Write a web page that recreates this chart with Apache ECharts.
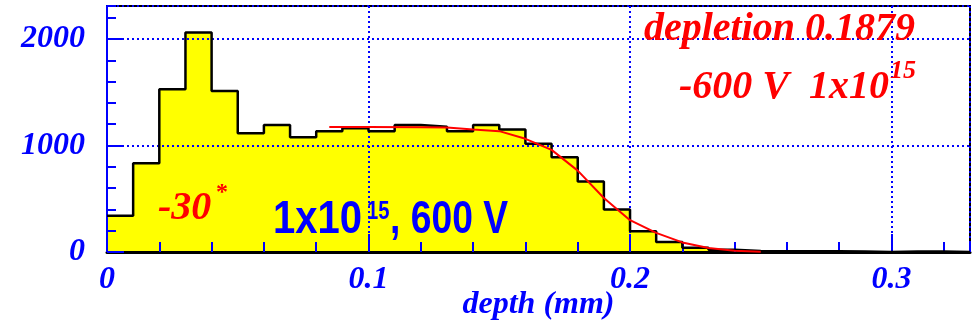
<!DOCTYPE html>
<html>
<head>
<meta charset="utf-8">
<script src="https://cdn.jsdelivr.net/npm/echarts@6/dist/echarts.min.js"></script>
<style>
html,body{margin:0;padding:0;background:#fff;}
#chart{width:974px;height:326px;}
</style>
</head>
<body>
<div id="chart"></div>
<script>
// ---- data ----
const binWidth = 0.01;
const binCounts = [340, 833, 1528, 2060, 1512, 1116, 1192, 1078, 1135, 1163,
                   1135, 1192, 1176, 1135, 1192, 1151, 1016, 890, 663, 399,
                   195, 94, 41, 22, 9, 7, 6, 6, 5, 0,
                   5, 5, 0];
const fitX = [0.085, 0.10, 0.12, 0.13, 0.14, 0.15, 0.16, 0.17, 0.18, 0.19, 0.20, 0.21, 0.22, 0.23, 0.24, 0.25];
const fitY = [1173, 1173, 1172, 1168, 1151, 1135, 1063, 959, 764, 507, 299, 180, 90, 38, 12, 3];
const xTickLabels = ['0', '0.1', '0.2', '0.3'];
const yTickLabels = ['0', '1000', '2000'];
const xName = 'depth (mm)';
const textDepletion = 'depletion 0.1879';
const textVolt = '-600 V  1x10';
const textExp = '15';
const textMinus30 = '-30';
const textBlue1 = '1x10';
const textBlue2 = ', 600 V';

// ---- build series data ----
const histData = binCounts.map((v, i) => [+(i * binWidth).toFixed(4), v]);
histData.push([+(binCounts.length * binWidth).toFixed(4), binCounts[binCounts.length - 1]]);
const fitData = fitX.map((x, i) => [x, fitY[i]]);

const BLUE = '#0000ff';
const RED = '#ff0000';
const serif = '"Liberation Serif", "Times New Roman", serif';
const sans = '"Liberation Sans", Arial, sans-serif';
const labelFont = {color: BLUE, fontFamily: serif, fontWeight: 'bold', fontStyle: 'italic', fontSize: 32};
const gridLine = {show: true, lineStyle: {color: BLUE, width: 2, type: [2, 3]}};

const chart = echarts.init(document.getElementById('chart'), null, {renderer: 'canvas'});
chart.setOption({
  animation: false,
  backgroundColor: '#fff',
  grid: {left: 107, right: 4, top: 6, bottom: 74, containLabel: false, outerBoundsMode: 'none',
         show: true, borderColor: '#000', borderWidth: 2, backgroundColor: 'transparent'},
  xAxis: [
    {
      type: 'value', min: 0, max: 0.33, interval: 0.1, position: 'bottom', z: 3,
      name: xName, nameLocation: 'middle', nameGap: 37, nameMoveOverlap: false,
      nameTextStyle: Object.assign({verticalAlign: 'top'}, labelFont),
      axisLine: {show: true, onZero: false, lineStyle: {color: '#000', width: 3}},
      axisTick: {show: true, inside: true, length: 18, lineStyle: {color: BLUE, width: 2}},
      axisLabel: Object.assign({margin: 12, showMaxLabel: false,
        formatter: v => { const k = Math.round(v * 10); return xTickLabels[k] !== undefined && Math.abs(v * 10 - k) < 1e-6 ? xTickLabels[k] : ''; }}, labelFont),
      splitLine: gridLine
    },
    {
      type: 'value', min: 0, max: 0.33, interval: 0.02, position: 'bottom', z: 3,
      axisLine: {show: false, onZero: false},
      axisTick: {show: true, inside: true, length: 10, lineStyle: {color: BLUE, width: 2}},
      axisLabel: {show: false},
      splitLine: {show: false}
    }
  ],
  yAxis: [
    {
      type: 'value', min: 0, max: 2310, interval: 1000, position: 'left', z: 3,
      axisLine: {show: true, onZero: false, lineStyle: {color: BLUE, width: 2}},
      axisTick: {show: true, inside: true, length: 17, lineStyle: {color: BLUE, width: 2}},
      axisLabel: Object.assign({margin: 22, showMaxLabel: false,
        formatter: v => { const k = Math.round(v / 1000); return yTickLabels[k] !== undefined && Math.abs(v / 1000 - k) < 1e-6 ? yTickLabels[k] : ''; }}, labelFont),
      splitLine: gridLine
    },
    {
      type: 'value', min: 0, max: 2310, interval: 200, position: 'left', z: 3,
      axisLine: {show: false, onZero: false},
      axisTick: {show: true, inside: true, length: 9, lineStyle: {color: BLUE, width: 2}},
      axisLabel: {show: false},
      splitLine: {show: false}
    }
  ],
  series: [
    {
      type: 'line', step: 'end', data: histData, xAxisIndex: 0, yAxisIndex: 0,
      symbol: 'none', z: 1, silent: true,
      lineStyle: {width: 0, opacity: 0},
      areaStyle: {color: '#ffff00', opacity: 1}
    },
    {
      type: 'line', step: 'end', data: histData, xAxisIndex: 0, yAxisIndex: 0,
      symbol: 'none', z: 5, silent: true,
      lineStyle: {color: '#000', width: 2.5}
    },
    {
      type: 'line', data: fitData, xAxisIndex: 0, yAxisIndex: 0,
      symbol: 'none', z: 6, silent: true, smooth: false,
      lineStyle: {color: RED, width: 2}
    }
  ],
  graphic: [
    {type: 'text', z: 10, style: {text: textDepletion, x: 915, y: 30, textAlign: 'right', textVerticalAlign: 'middle',
      fill: RED, font: 'italic bold 40px ' + serif}},
    {type: 'text', z: 10, style: {text: textVolt, x: 889, y: 88, textAlign: 'right', textVerticalAlign: 'middle',
      fill: RED, font: 'italic bold 40px ' + serif}},
    {type: 'text', z: 10, style: {text: textExp, x: 890, y: 71, textAlign: 'left', textVerticalAlign: 'middle',
      fill: RED, font: 'italic bold 26px ' + serif}},
    {type: 'text', z: 10, style: {text: textMinus30, x: 158, y: 209, textAlign: 'left', textVerticalAlign: 'middle',
      fill: RED, font: 'italic bold 40px ' + serif}},
    {type: 'text', z: 10, style: {text: '*', x: 216, y: 193, textAlign: 'left', textVerticalAlign: 'middle',
      fill: RED, font: 'bold 24px ' + serif}},
    {type: 'text', z: 10, x: 273, y: 220, scaleX: 0.87, style: {text: textBlue1, x: 0, y: 0, textAlign: 'left', textVerticalAlign: 'middle',
      fill: BLUE, font: 'bold 46px ' + sans}},
    {type: 'text', z: 10, x: 367, y: 212, scaleX: 0.81, style: {text: textExp, x: 0, y: 0, textAlign: 'left', textVerticalAlign: 'middle',
      fill: BLUE, font: 'bold 25px ' + sans}},
    {type: 'text', z: 10, x: 390, y: 220, scaleX: 0.81, style: {text: textBlue2, x: 0, y: 0, textAlign: 'left', textVerticalAlign: 'middle',
      fill: BLUE, font: 'bold 46px ' + sans}}
  ]
});
</script>
</body>
</html>
